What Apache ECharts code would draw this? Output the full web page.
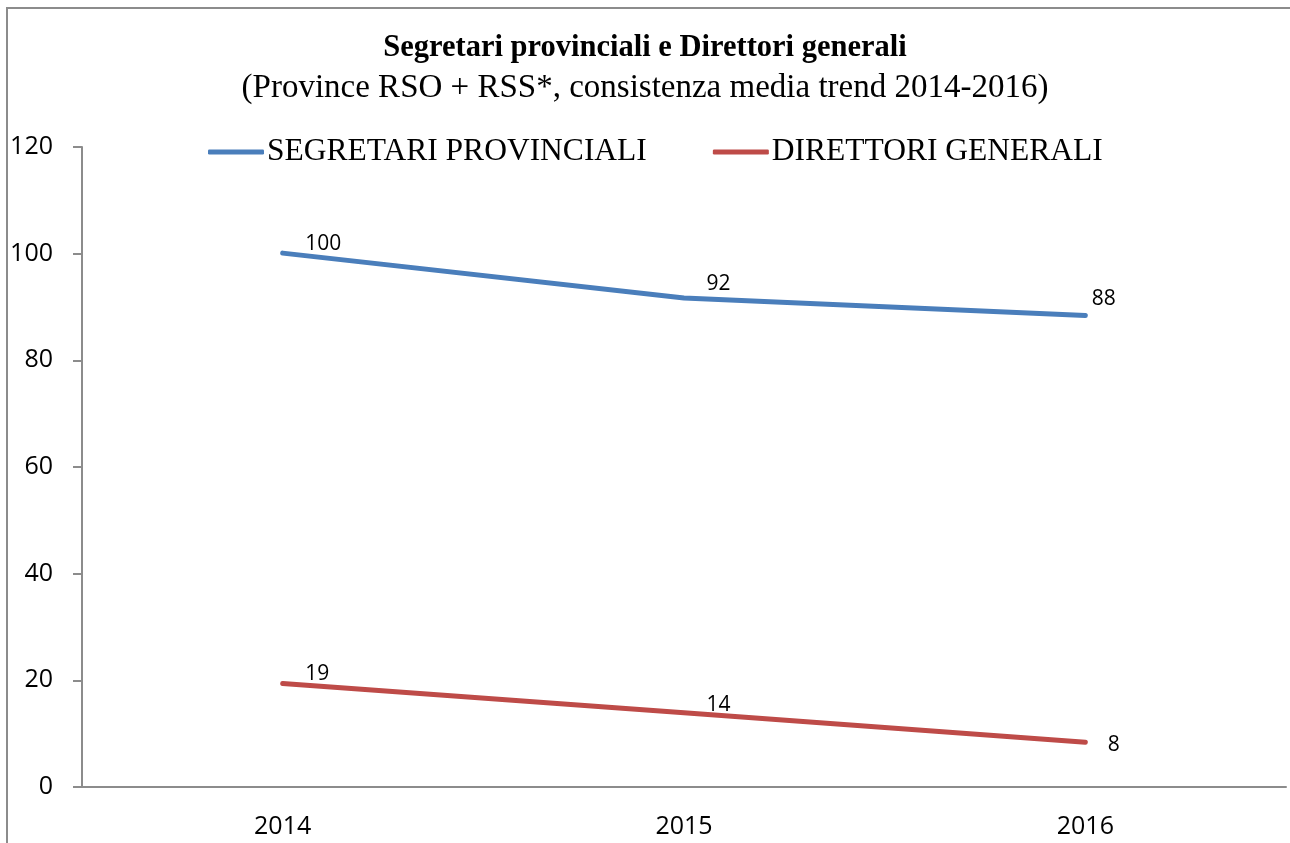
<!DOCTYPE html>
<html lang="it">
<head>
    <meta charset="UTF-8">
    <title>Segretari provinciali e Direttori generali</title>
    <style>
        body{
            margin: 0;
            background: #fff;
        }
        #main{
            position: absolute;
            left: 0;
            top: 0;
            width: 1290px;
            height: 843px;
        }
        #frame{
            position: absolute;
            left: 6px;
            top: 7px;
            width: 1400px;
            height: 900px;
            border-left: 2px solid #8c8c8c;
            border-top: 2px solid #8c8c8c;
        }
    </style>
</head>
<body>
    <div id="frame"></div>
    <div id="main"></div>
    <script src="https://cdn.jsdelivr.net/npm/echarts@6/dist/echarts.min.js"></script>

    <script>
        // dati
        var anni = ['2014', '2015', '2016'];
        var segretari = [100.1, 91.7, 88.4];
        var direttori = [19.4, 13.9, 8.4];
        var yTicks = [0, 20, 40, 60, 80, 100, 120];

        var myChart = echarts.init(document.getElementById('main'));

        var serif = 'Liberation Serif';
        var sans = 'Open Sans';

        // spostamento delle etichette come nel grafico originale
        var offSegretari = [[0, -9], [0, -14], [-16, -17]];
        var offDirettori = [[0, -10], [0, -8], [0, 3]];

        function punti(valori, offs){
            return valori.map(function(v, i){
                return {value: v, label: {offset: offs[i]}};
            });
        }

        function etichetta(){
            return {
                show: true,
                position: 'right',
                distance: 22,
                fontFamily: sans,
                fontSize: 21,
                color: '#000',
                formatter: function(p){ return Math.round(p.value); }
            };
        }

        var option = {
            animation: false,
            title: {
                text: 'Segretari provinciali e Direttori generali',
                subtext: '(Province RSO + RSS*, consistenza media trend 2014-2016)',
                left: 'center',
                top: 28,
                itemGap: 8,
                textStyle: {
                    fontFamily: serif,
                    fontWeight: 'bold',
                    fontSize: 30.5,
                    color: '#000'
                },
                subtextStyle: {
                    fontFamily: serif,
                    fontSize: 33,
                    color: '#000'
                }
            },
            legend: {
                data: ['SEGRETARI PROVINCIALI', 'DIRETTORI GENERALI'],
                top: 131,
                left: 203,
                itemWidth: 56,
                itemHeight: 5,
                itemGap: 66,
                icon: 'roundRect',
                textStyle: {
                    fontFamily: serif,
                    fontSize: 31.5,
                    color: '#000',
                    padding: [0, 0, 0, -2]
                }
            },
            grid: {
                left: 82,
                right: 4,
                top: 147,
                bottom: 56
            },
            xAxis: {
                type: 'category',
                data: anni,
                axisLine: {lineStyle: {color: '#8c8c8c', width: 2}},
                axisTick: {show: false},
                axisLabel: {
                    margin: 27,
                    fontFamily: sans,
                    fontSize: 25,
                    color: '#000'
                }
            },
            yAxis: {
                type: 'value',
                min: yTicks[0],
                max: yTicks[yTicks.length - 1],
                interval: 20,
                splitLine: {show: false},
                axisLine: {show: true, lineStyle: {color: '#8c8c8c', width: 2}},
                axisTick: {show: true, length: 9, lineStyle: {color: '#8c8c8c', width: 2}},
                axisLabel: {
                    margin: 29,
                    fontFamily: sans,
                    fontSize: 25,
                    color: '#000'
                }
            },
            series: [{
                name: 'SEGRETARI PROVINCIALI',
                type: 'line',
                data: punti(segretari, offSegretari),
                symbol: 'circle',
                symbolSize: 1,
                showSymbol: true,
                color: '#4a7ebb',
                lineStyle: {width: 5, cap: 'round'},
                label: etichetta()
            }, {
                name: 'DIRETTORI GENERALI',
                type: 'line',
                data: punti(direttori, offDirettori),
                symbol: 'circle',
                symbolSize: 1,
                showSymbol: true,
                color: '#be4b48',
                lineStyle: {width: 5, cap: 'round'},
                label: etichetta()
            }]
        };

        myChart.setOption(option);
    </script>
</body>
</html>
